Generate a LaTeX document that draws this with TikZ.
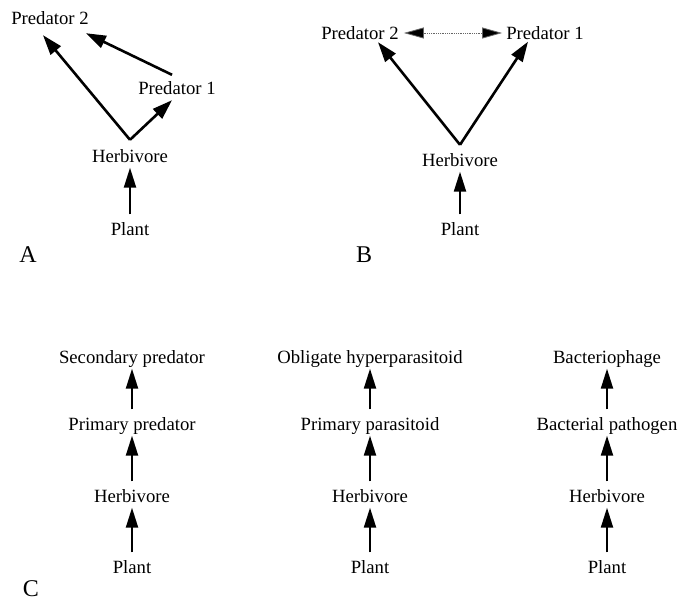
\documentclass[tikz,border=0pt]{standalone}
\usepackage{fontspec}
\setmainfont{Liberation Serif}
\usetikzlibrary{arrows.meta}
\begin{document}
\begin{tikzpicture}[x=1pt, y=-1pt,
    every node/.style={inner sep=0pt, text height=13pt, text depth=0pt, font=\fontsize{18.7}{22}\selectfont},
    panel/.style={font=\fontsize{24}{26}\selectfont, text height=16pt},
    arr/.style={line width=2.6pt, -{Triangle[length=20pt, width=13pt]}},
    uparr/.style={line width=2.2pt, -{Triangle[length=20pt, width=12pt]}, shorten <=8pt, shorten >=5pt},
    duo/.style={line width=0.8pt, densely dotted, black!60, {Triangle[length=20pt, width=11pt, fill=black]}-{Triangle[length=20pt, width=11pt, fill=black]}, shorten <=5pt, shorten >=4pt}]
  \useasboundingbox (0,0) rectangle (679,601);

  \node (pred2A) at (50,18) {Predator 2};
  \node (pred1A) at (177,88) {Predator 1};
  \node (herbA) at (130,156) {Herbivore};
  \node (plantA) at (130,229) {Plant};
  \node [panel] (labA) at (28,255) {A};
  \draw [arr] ([yshift=9.5pt]herbA.north) -- ([xshift=-7pt, yshift=-10.5pt]pred2A.south);
  \draw [arr] ([yshift=9.5pt]herbA.north) -- ([xshift=-5pt, yshift=-5.5pt]pred1A.south);
  \draw [arr] ([xshift=-5pt, yshift=6.5pt]pred1A.north) -- ([xshift=-3pt, yshift=-8.5pt]pred2A.south east);
  \draw [uparr] (plantA) -- (herbA);

  \node (pred2B) at (360,33) {Predator 2};
  \node (pred1B) at (545,33) {Predator 1};
  \node (herbB) at (460,160) {Herbivore};
  \node (plantB) at (460,229) {Plant};
  \node [panel] (labB) at (364,255) {B};
  \draw [arr] ([yshift=8.5pt]herbB.north) -- ([xshift=18pt, yshift=-2.5pt]pred2B.south);
  \draw [arr] ([yshift=8.5pt]herbB.north) -- ([xshift=-17pt, yshift=-2pt]pred1B.south);
  \draw [duo] (pred2B) -- (pred1B);
  \draw [uparr] (plantB) -- (herbB);

  \node (secC) at (132,357) {Secondary predator};
  \node (primC) at (132,424) {Primary predator};
  \node (herbC) at (132,496) {Herbivore};
  \node (plantC) at (132,567) {Plant};
  \draw [uparr] (plantC) -- (herbC);
  \draw [uparr] (herbC) -- (primC);
  \draw [uparr] (primC) -- (secC);

  \node (hypD) at (370,357) {Obligate hyperparasitoid};
  \node (parD) at (370,424) {Primary parasitoid};
  \node (herbD) at (370,496) {Herbivore};
  \node (plantD) at (370,567) {Plant};
  \draw [uparr] (plantD) -- (herbD);
  \draw [uparr] (herbD) -- (parD);
  \draw [uparr] (parD) -- (hypD);

  \node (phageE) at (607,357) {Bacteriophage};
  \node (pathE) at (607,424) {Bacterial pathogen};
  \node (herbE) at (607,496) {Herbivore};
  \node (plantE) at (607,567) {Plant};
  \draw [uparr] (plantE) -- (herbE);
  \draw [uparr] (herbE) -- (pathE);
  \draw [uparr] (pathE) -- (phageE);

  \node [panel] (labC) at (31,588) {C};
\end{tikzpicture}
\end{document}
